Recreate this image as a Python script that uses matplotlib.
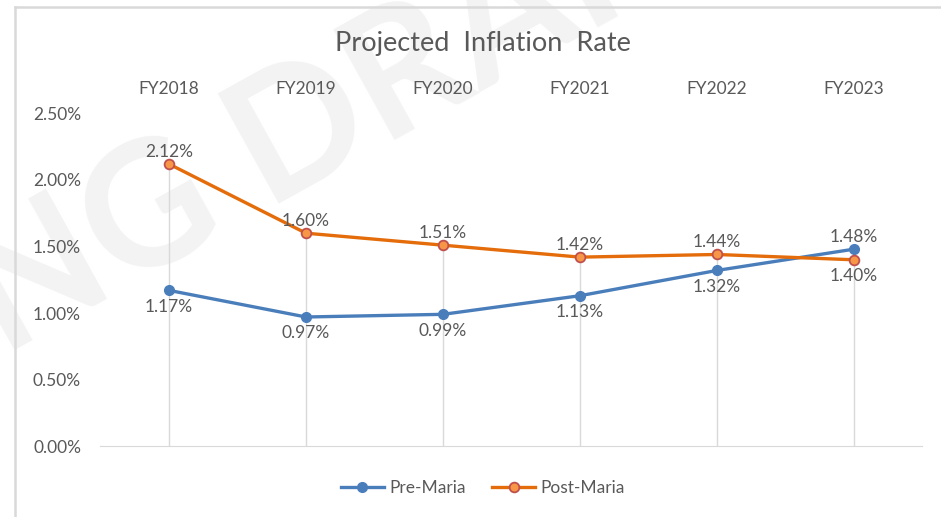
import matplotlib.pyplot as plt
from matplotlib.lines import Line2D
from matplotlib.ticker import FuncFormatter
import numpy as np

plt.rcParams['font.family'] = ['Lato', 'DejaVu Sans']

# data
years = ['FY2018', 'FY2019', 'FY2020', 'FY2021', 'FY2022', 'FY2023']
pre_maria = [1.17, 0.97, 0.99, 1.13, 1.32, 1.48]
post_maria = [2.12, 1.60, 1.51, 1.42, 1.44, 1.40]
pre_label_pos = ['below', 'below', 'below', 'below', 'below', 'above']
post_label_pos = ['above', 'above', 'above', 'above', 'above', 'below']

text_col = '#595959'
blue = '#4a7ebb'
orange = '#e46c0a'

fig = plt.figure(figsize=(9.41, 5.17), dpi=100)

# faint watermark behind the chart
fig.text(0.10, 0.52, 'WORKING DRAFT', fontsize=125, fontweight='bold', color='#f3f3f3',
         rotation=29, ha='center', va='center', zorder=-5)

# chart frame
fig.add_artist(Line2D([15/941, 1], [1 - 7/517, 1 - 7/517], color='#d9d9d9', lw=1.8))
fig.add_artist(Line2D([15/941, 15/941], [0, 1 - 7/517], color='#d9d9d9', lw=1.8))

ax = fig.add_axes([0.1068, 0.1373, 0.8735, 0.6432])
ax.patch.set_alpha(0)
x = np.arange(len(years))

# drop lines from the higher series to the axis
tops = np.maximum(pre_maria, post_maria) / 100
ax.vlines(x, 0, tops, color='#d9d9d9', lw=1, zorder=1)

ax.plot(x, np.array(pre_maria) / 100, color=blue, lw=2.4, marker='o', ms=7,
        mfc=blue, mec=blue, label='Pre-Maria', zorder=3)
ax.plot(x, np.array(post_maria) / 100, color=orange, lw=2.4, marker='o', ms=7,
        mfc='#f79646', mec='#c0504d', mew=1.3, label='Post-Maria', zorder=3)

for vals, pos in [(pre_maria, pre_label_pos), (post_maria, post_label_pos)]:
    for i, (v, p) in enumerate(zip(vals, pos)):
        dy = 3 if p == 'above' else -6
        ax.annotate(f'{v:.2f}%', (i, v / 100), xytext=(0, dy), textcoords='offset points',
                    ha='center', va='bottom' if p == 'above' else 'top',
                    fontsize=12.5, color=text_col)

ax.set_xlim(-0.5, len(years) - 0.5)
ax.set_ylim(0, 0.025)
ax.set_yticks(np.arange(0, 0.0251, 0.005))
ax.yaxis.set_major_formatter(FuncFormatter(lambda v, _: f'{v * 100:.2f}%'))
ax.set_xticks(x)
ax.set_xticklabels(years)
ax.xaxis.tick_top()
ax.tick_params(axis='x', length=0, pad=12, labelsize=12.5, labelcolor=text_col)
ax.tick_params(axis='y', length=0, pad=14, labelsize=12.5, labelcolor=text_col)

for s in ['top', 'left', 'right']:
    ax.spines[s].set_visible(False)
ax.spines['bottom'].set_color('#d9d9d9')

fig.text(0.513, 0.915, 'Projected  Inflation  Rate', ha='center', va='center',
         fontsize=19.5, color=text_col)

fig.legend(loc='center', bbox_to_anchor=(0.513, 0.056), ncol=2, frameon=False,
           fontsize=12.5, labelcolor=text_col, handlelength=2.5, columnspacing=1.5,
           handletextpad=0.3)

fig.savefig('out.png', dpi=100)
